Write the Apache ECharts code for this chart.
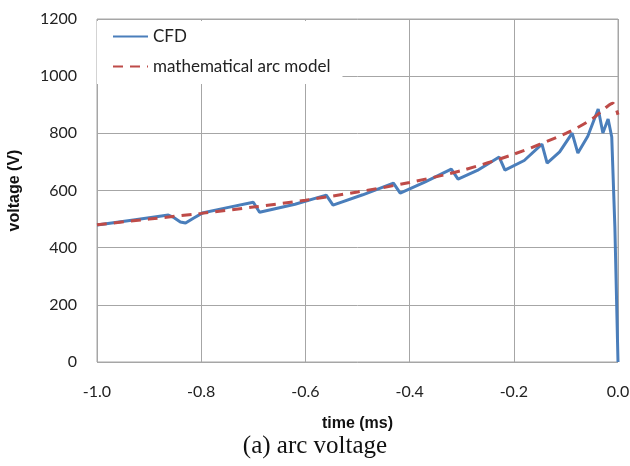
<!DOCTYPE html>
<html><head><meta charset="utf-8">
<script src="https://cdn.jsdelivr.net/npm/echarts@6/dist/echarts.min.js"></script>
<style>html,body{margin:0;padding:0;background:#fff}#c{width:630px;height:466px}</style>
</head><body><div id="c"></div>
<script>
// time (ms) and voltage (V)
var cfdTime = [-1.0, -0.93, -0.863, -0.852, -0.84, -0.83, -0.815, -0.798, -0.75, -0.700, -0.688, -0.62, -0.560, -0.547, -0.49, -0.431, -0.418, -0.37, -0.320, -0.307, -0.27, -0.228, -0.217, -0.18, -0.146, -0.136, -0.112, -0.088, -0.077, -0.058, -0.038, -0.029, -0.019, -0.012, -0.006, 0.0];
var cfdVolt = [479, 497, 514, 505, 490, 486, 503, 521, 540, 559, 524, 552, 584, 549, 585, 626, 591, 630, 675, 640, 670, 717, 671, 705, 762, 696, 735, 801, 731, 790, 885, 801, 850, 787, 472, 0];
var modelTime = [-1.0, -0.9, -0.8, -0.7, -0.6, -0.5, -0.4, -0.3, -0.2, -0.1, -0.05, -0.02, -0.01, 0.0];
var modelVolt = [480, 500, 520, 542, 566, 595, 628, 670, 727, 800, 850, 895, 905, 865];
var xTicks = [-1.0, -0.8, -0.6, -0.4, -0.2, 0.0];
var yTicks = [0, 200, 400, 600, 800, 1000, 1200];
var seriesNames = ['CFD', 'mathematical arc model'];

function pairs(xs, ys) { return xs.map(function (x, i) { return [x, ys[i]]; }); }

var chart = echarts.init(document.getElementById('c'), null, {renderer: 'canvas'});
chart.setOption({
  animation: false,
  backgroundColor: '#fff',
  grid: {left: 97, right: 12, top: 19, bottom: 104, show: true, borderColor: '#a6a6a6', borderWidth: 1,
    containLabel: false, outerBoundsMode: 'none'},
  legend: {
    left: 97, top: 21, orient: 'vertical',
    padding: [7, 12, 9, 15], itemGap: 13, itemWidth: 35, itemHeight: 14,
    backgroundColor: '#fff',
    itemStyle: {opacity: 0},
    textStyle: {fontFamily: 'Lato', fontSize: 17, color: '#222'},
    data: seriesNames
  },
  xAxis: {
    type: 'value', min: -1.0, max: 0.0, interval: 0.2,
    name: 'time (ms)', nameLocation: 'middle', nameGap: 54,
    nameTextStyle: {fontFamily: 'Liberation Sans', fontWeight: 'bold', fontSize: 16, color: '#111'},
    axisLine: {show: false}, axisTick: {show: false},
    axisLabel: {margin: 22, fontFamily: 'Lato', fontSize: 16, color: '#222',
      formatter: function (v) { return (Math.abs(v) < 1e-9 ? 0 : v).toFixed(1); }},
    splitLine: {show: true, lineStyle: {color: '#a6a6a6', width: 1}}
  },
  yAxis: {
    type: 'value', min: 0, max: 1200, interval: 200,
    name: 'voltage (V)', nameLocation: 'middle', nameGap: 74, nameRotate: 90,
    nameTextStyle: {fontFamily: 'Liberation Sans', fontWeight: 'bold', fontSize: 16, color: '#111'},
    axisLine: {show: false}, axisTick: {show: false},
    axisLabel: {margin: 20, fontFamily: 'Lato', fontSize: 16, color: '#222',
      formatter: function (v) { return String(v); }},
    splitLine: {show: true, lineStyle: {color: '#a6a6a6', width: 1}}
  },
  graphic: [{
    type: 'text', left: 'center', top: 434,
    style: {text: '(a) arc voltage', font: '25px "Liberation Serif"', fill: '#111'}
  }],
  series: [
    {name: seriesNames[0], type: 'line', data: pairs(cfdTime, cfdVolt), symbol: 'none', z: 3,
      lineStyle: {color: '#4a7ebb', width: 3}, itemStyle: {color: '#4a7ebb'}},
    {name: seriesNames[1], type: 'line', data: pairs(modelTime, modelVolt), symbol: 'none', smooth: 0.3, z: 4,
      lineStyle: {color: '#be4b48', width: 3, type: [10, 7]}, itemStyle: {color: '#be4b48'}}
  ]
});
</script></body></html>
